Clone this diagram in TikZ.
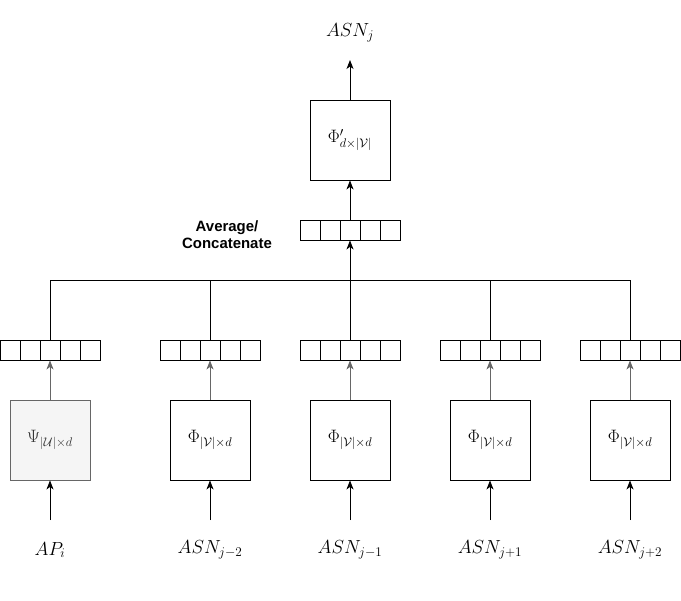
\documentclass[tikz,border=0pt]{standalone}
\usepackage{fontspec}
\setsansfont{Liberation Sans}
\usepackage{fix-cm}
\usetikzlibrary{arrows.meta}
\definecolor{boxgray}{HTML}{F5F5F5}
\definecolor{linegray}{HTML}{666666}
\definecolor{textgray}{HTML}{333333}
\begin{document}
\begin{tikzpicture}[x=1bp,y=-1bp,line width=0.9bp]

    \tikzset{
      cell/.style={
        draw,
        minimum width=20bp,
        minimum height=20bp,
        inner sep=0pt,
      },
      layer/.style={
        draw,
        minimum width=80bp,
        minimum height=80bp,
        inner sep=0pt,
        font=\fontsize{18}{20}\selectfont,
      },
      plainlayer/.style={},
      graylayer/.style={fill=boxgray, draw=linegray, text=textgray},
      lbl/.style={font=\fontsize{19}{21}\selectfont},
      arr/.style={-{Stealth[length=9bp,width=7bp,inset=2.5bp]}},
    }
    \useasboundingbox (0,0) rectangle (681,601);
	\node[lbl] (out) at (350,33) {$ASN_j$};
	\node[layer] (dec) at (350,140) {$\Phi'_{d\times|\mathcal{V}|}$};
	\foreach \k in {1,...,5}
	  \node[cell] (top-\k) at (290+20*\k,230) {};
	\node[align=center, font=\sffamily\bfseries\fontsize{15}{17}\selectfont] (agg) at (227,235) {Average/\\Concatenate};
	\draw[arr] (dec.north) -- (out.south |- 0,60);
	\draw[arr] (top-3.north) -- (dec.south);

	\foreach \i/\x/\st/\sym/\txt in {
	    1/50/graylayer/{\Psi_{|\mathcal{U}|\times d}}/{AP_i},
	    2/210/plainlayer/{\Phi_{|\mathcal{V}|\times d}}/{ASN_{j-2}},
	    3/350/plainlayer/{\Phi_{|\mathcal{V}|\times d}}/{ASN_{j-1}},
	    4/490/plainlayer/{\Phi_{|\mathcal{V}|\times d}}/{ASN_{j+1}},
	    5/630/plainlayer/{\Phi_{|\mathcal{V}|\times d}}/{ASN_{j+2}}} {
	  \foreach \k in {1,...,5}
	    \node[cell] (v\i-\k) at (\x-60+20*\k,350) {};
	  \node[layer,\st] (enc\i) at (\x,440) {$\sym$};
	  \node[lbl] (inp\i) at (\x,550) {$\txt$};
	  \coordinate (in\i) at (\x,520);
	  \draw[arr] (in\i) -- (enc\i.south);
	  \draw[arr,draw=linegray] (enc\i.north) -- (v\i-3.south);
	}

	\coordinate (busR) at (630,280);
	\draw (v1-3.north) |- (busR) -- (v5-3.north);
	\foreach \i in {2,3,4}
	  \draw (v\i-3.north) -- (v\i-3.north |- busR);
	\draw[arr] (v3-3.north |- busR) -- (top-3.south);

\end{tikzpicture}
\end{document}
